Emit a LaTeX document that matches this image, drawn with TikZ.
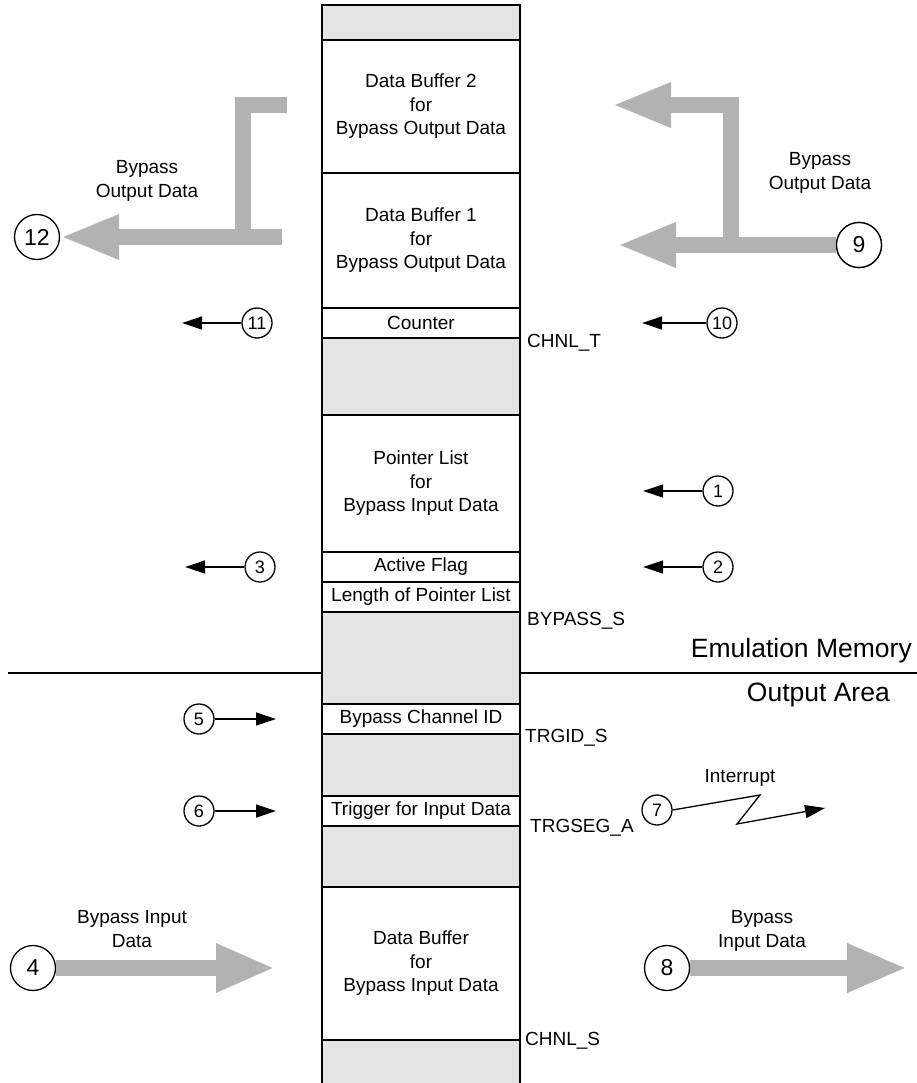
\documentclass[tikz,border=0pt]{standalone}
\usepackage{fontspec}
\setmainfont{Liberation Sans}
\usetikzlibrary{arrows.meta}
\definecolor{colgrey}{HTML}{E4E4E4}
\definecolor{arrgrey}{HTML}{B2B2B2}
\begin{document}
\begin{tikzpicture}[x=1pt,y=-1pt,
  txt/.style={font=\fontsize{19}{23.5}\selectfont, align=center, inner sep=0pt},
  seg/.style={txt, draw, line width=1.5pt, fill=white, minimum width=198pt, outer sep=0pt},
  sc/.style={circle, draw, line width=1.3pt, fill=white, minimum size=30pt, inner sep=0pt, font=\fontsize{18}{18}\selectfont},
  bc/.style={circle, draw, line width=1.3pt, fill=white, minimum size=45pt, inner sep=0pt, font=\fontsize{23}{23}\selectfont},
  thinarrow/.style={line width=1.3pt, -{Triangle[length=20pt,width=13pt]}},
  fatarrow/.style={line width=16pt, draw=arrgrey, line join=miter, -{Triangle[length=59pt,width=41pt]}},
  fatbar/.style={line width=16pt, draw=arrgrey, line join=miter},
  addr/.style={txt, anchor=west},
  area/.style={font=\fontsize{26.5}{26.5}\selectfont, inner sep=0pt, anchor=base east}
]
\useasboundingbox (0,0) rectangle (917,1083);

% memory column
\fill[colgrey] (322,5) rectangle (520,1083);
\draw[line width=1.5pt] (322,1083) -- (322,5) -- (520,5) -- (520,1083);

% separator line
\draw[line width=1.6pt] (8,673) -- (322,673);
\draw[line width=1.6pt] (520,673) -- (917,673);

% segments
\node[seg, minimum height=133pt] (db2) at (421,106.5) {Data Buffer 2\\for\\Bypass Output Data};
\node[seg, minimum height=135pt] (db1) at (421,240.5) {Data Buffer 1\\for\\Bypass Output Data};
\node[seg, minimum height=30pt] (cnt) at (421,323) {Counter};
\node[seg, minimum height=137pt] (ptr) at (421,483.5) {Pointer List\\for\\Bypass Input Data};
\node[seg, minimum height=30pt] (act) at (421,567) {Active Flag};
\node[seg, minimum height=30pt] (len) at (421,597) {Length of Pointer List};
\node[seg, minimum height=30pt] (cid) at (421,719) {Bypass Channel ID};
\node[seg, minimum height=30pt] (trg) at (421,811) {Trigger for Input Data};
\node[seg, minimum height=153pt] (dbin) at (421,963.5) {Data Buffer\\for\\Bypass Input Data};

% address labels
\node[addr] (chnlt) at (527,343) {CHNL\_T};
\node[addr] (bypass) at (527,621) {BYPASS\_S};
\node[addr] (trgid) at (525,738) {TRGID\_S};
\node[addr] (trgseg) at (530,828) {TRGSEG\_A};
\node[addr] (chnls) at (525,1041) {CHNL\_S};

% area labels
\node[area] (em) at (912,657) {Emulation Memory};
\node[area] (oa) at (890,701) {Output Area};

% big arrows: 12
\coordinate (s12) at (282,237);
\coordinate (k12) at (243,245);
\coordinate (c12a) at (243,105);
\coordinate (e12) at (287,105);
\draw[fatbar] (k12) -- (c12a) -- (e12);
\node[bc] (c12) at (37,237) {12};
\draw[fatarrow] (s12) -- (c12.east);
\node[txt] (l12) at (147,181) {Bypass\\Output Data};

% big arrows: 9
\node[bc] (c9) at (859,245) {9};
\coordinate (t9a) at (617,245);
\coordinate (k9) at (731,245);
\coordinate (c9a) at (731,105);
\coordinate (t9b) at (612,105);
\draw[fatarrow] (k9) -- (c9a) -- (t9b);
\draw[fatarrow] (c9.west) -- (t9a);
\node[bc] at (c9) {9};
\node[txt] (l9) at (820,173) {Bypass\\Output Data};

% big arrows: 4 and 8
\node[bc] (c4) at (33,968) {4};
\coordinate (t4) at (275,968);
\draw[fatarrow, -{Triangle[length=59pt,width=45pt]}] (c4.east) -- (t4);
\node[txt] (l4) at (132,929) {Bypass Input\\Data};

\node[bc] (c8) at (667,968) {8};
\coordinate (t8) at (907,968);
\draw[fatarrow, -{Triangle[length=60pt,width=45pt]}] (c8.east) -- (t8);
\node[txt] (l8) at (762,931) {Bypass\\Input Data};

% small arrows
\node[sc] (c11) at (257,323) {11};
\coordinate (t11) at (182,323);
\draw[thinarrow] (c11.west) -- (t11);

\node[sc] (c10) at (722,323) {10};
\coordinate (t10) at (642,323);
\draw[thinarrow] (c10.west) -- (t10);

\node[sc] (c1) at (718,491) {1};
\coordinate (t1) at (643,491);
\draw[thinarrow] (c1.west) -- (t1);

\node[sc] (c2) at (718,567) {2};
\coordinate (t2) at (643,567);
\draw[thinarrow] (c2.west) -- (t2);

\node[sc] (c3) at (260,567) {3};
\coordinate (t3) at (185,567);
\draw[thinarrow] (c3.west) -- (t3);

\node[sc] (c5) at (199,719) {5};
\coordinate (t5) at (276,719);
\draw[thinarrow] (c5.east) -- (t5);

\node[sc] (c6) at (199,811) {6};
\coordinate (t6) at (276,811);
\draw[thinarrow] (c6.east) -- (t6);

% interrupt
\node[sc] (c7) at (657,810) {7};
\coordinate (z1) at (760,795);
\coordinate (z2) at (737,824);
\coordinate (t7) at (825,808);
\draw[thinarrow, line join=miter] (c7.east) -- (z1) -- (z2) -- (t7);
\node[txt] (int) at (740,778) {Interrupt};
\end{tikzpicture}
\end{document}
